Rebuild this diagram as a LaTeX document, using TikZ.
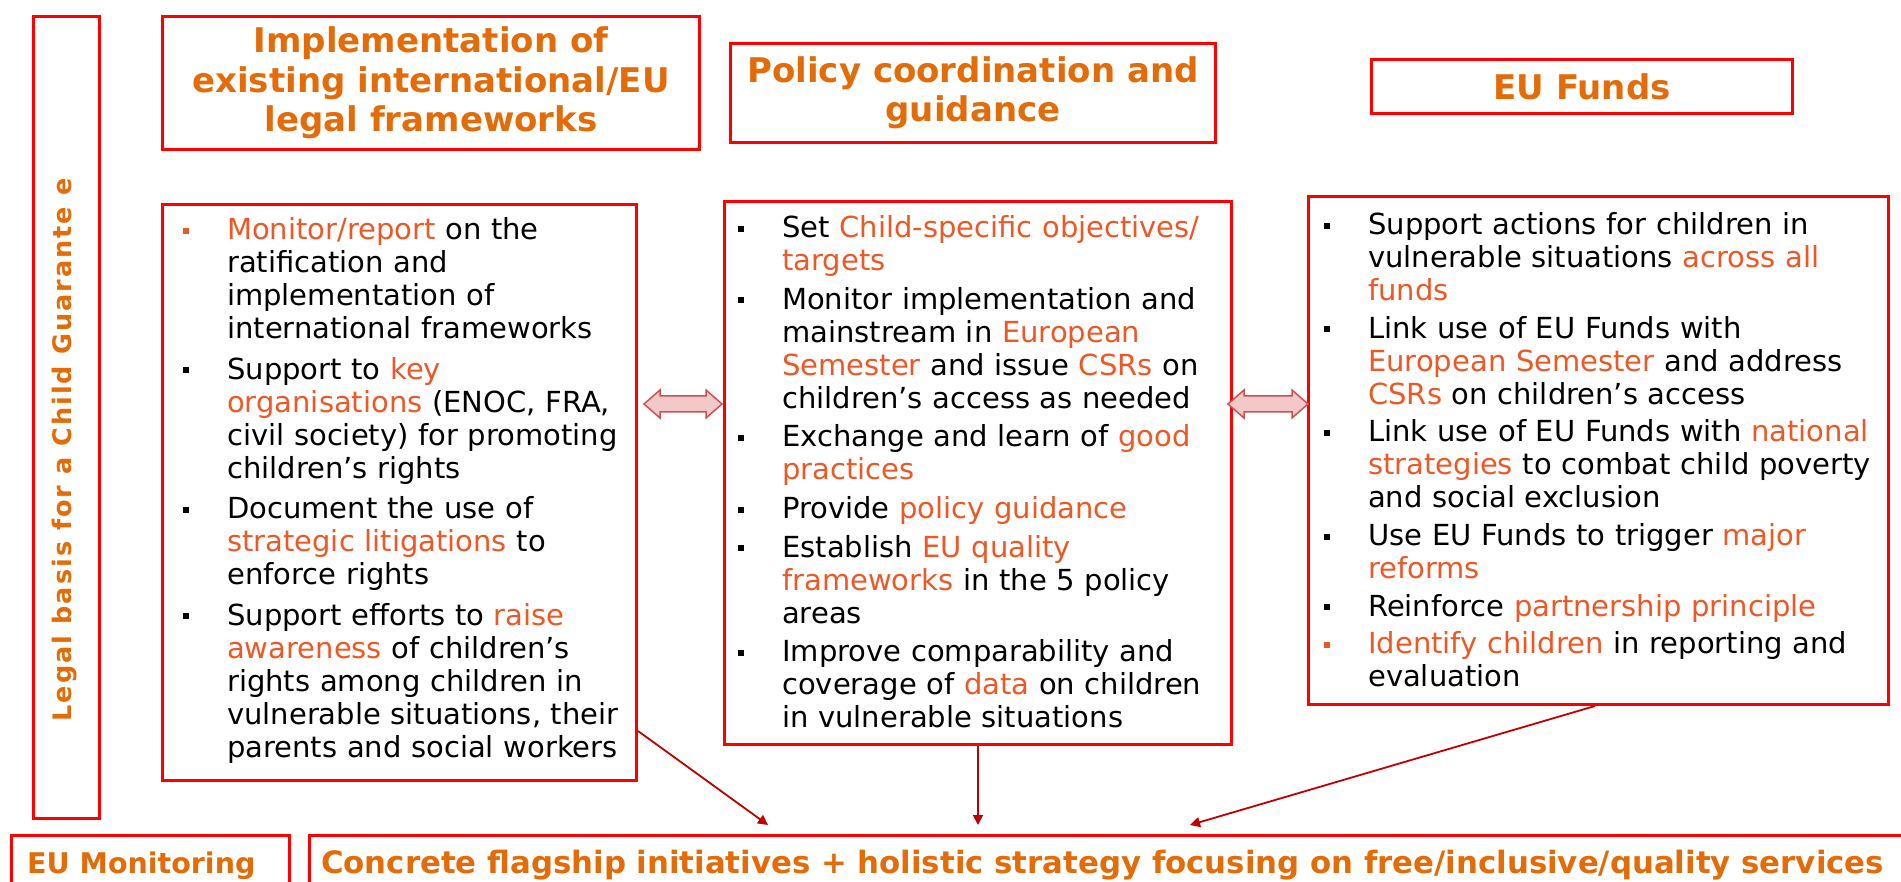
\documentclass[tikz,border=0pt]{standalone}
\usepackage{fontspec}
\setmainfont{DejaVu Sans}
\newfontfamily\legalfont[LetterSpace=8]{DejaVu Sans}
\usetikzlibrary{arrows.meta,calc}
\definecolor{boxred}{RGB}{255,0,0}
\definecolor{headorange}{RGB}{227,108,9}
\definecolor{hlorange}{RGB}{236,88,38}
\definecolor{connred}{RGB}{192,0,0}
\definecolor{dafill}{RGB}{242,200,200}
\definecolor{daline}{RGB}{208,80,80}
\newcommand{\hl}[1]{\textcolor{hlorange}{#1}}
\newcommand{\bitem}[2]{\par\noindent\hangindent=44pt\hangafter=1\makebox[44pt][l]{\textcolor{#1}{\rule[6pt]{6pt}{6pt}}}\strut#2\par}
\begin{document}
\begin{tikzpicture}[x=1pt,y=-1pt,
  redbox/.style={draw=boxred, line width=3pt, inner sep=0pt, anchor=north west},
  headtext/.style={text=headorange, font=\fontsize{34}{39.5}\selectfont\bfseries, align=center},
  bodytext/.style={anchor=north west, inner sep=0pt, text width=#1, align=left, font=\fontsize{29}{33}\selectfont},
  foottext/.style={anchor=base west, inner sep=0pt, text=headorange},
  conn/.style={draw=connred, line width=1.8pt, -{Triangle[length=10pt,width=10pt]}},
  darrow/.style={draw=daline, fill=dafill, line width=1.5pt, line join=miter}
]
\useasboundingbox (0,0) rectangle (1901,882);
\fill[white] (0,0) rectangle (1901,882);
\clip (0,0) rectangle (1901,882);

% legal basis
\node[redbox, minimum width=66pt, minimum height=802pt] (legal) at (32,15) {};
\node[text=headorange, rotate=90, inner sep=0pt, font=\legalfont\bfseries\fontsize{25.5}{30}\selectfont] (legaltext) at (65,450) {Legal basis for a Child Guarante e};

% headers
\node[redbox, headtext, minimum width=537pt, minimum height=133pt] (h1) at (161,15) {Implementation of\\existing international/EU\\legal frameworks};
\node[redbox, headtext, minimum width=485pt, minimum height=99pt] (h2) at (729,42) {Policy coordination and\\guidance};
\node[redbox, headtext, minimum width=421pt, minimum height=54pt] (h3) at (1370,58) {EU Funds};

% body boxes
\node[redbox, minimum width=474pt, minimum height=576pt] (b1) at (161,203) {};
\node[redbox, minimum width=507pt, minimum height=543pt] (b2) at (723,200) {};
\node[redbox, minimum width=580pt, minimum height=508pt] (b3) at (1307,195) {};

\node[bodytext=520pt] (t1) at (183,199) {\setlength{\parskip}{7.5pt}%
\bitem{hlorange}{\hl{Monitor/report} on the\newline ratification and\newline implementation of\newline international frameworks}
\bitem{black}{Support to \hl{key}\newline \hl{organisations} (ENOC, FRA,\newline civil society) for promoting\newline children’s rights}
\bitem{black}{Document the use of\newline \hl{strategic litigations} to\newline enforce rights}
\bitem{black}{Support efforts to \hl{raise}\newline \hl{awareness} of children’s\newline rights among children in\newline vulnerable situations, their\newline parents and social workers}};

\node[bodytext=540pt] (t2) at (738,199) {\setlength{\parskip}{5.6pt}%
\bitem{black}{Set \hl{Child-specific objectives/}\newline \hl{targets}}
\bitem{black}{Monitor implementation and\newline mainstream in \hl{European}\newline \hl{Semester} and issue \hl{CSRs} on\newline children’s access as needed}
\bitem{black}{Exchange and learn of \hl{good}\newline \hl{practices}}
\bitem{black}{Provide \hl{policy guidance}}
\bitem{black}{Establish \hl{EU quality}\newline \hl{frameworks} in the 5 policy\newline areas}
\bitem{black}{Improve comparability and\newline coverage of \hl{data} on children\newline in vulnerable situations}};

\node[bodytext=620pt] (t3) at (1324,197) {\setlength{\parskip}{4.6pt}%
\bitem{black}{Support actions for children in\newline vulnerable situations \hl{across all}\newline \hl{funds}}
\bitem{black}{Link use of EU Funds with\newline \hl{European Semester} and address\newline \hl{CSRs} on children’s access}
\bitem{black}{Link use of EU Funds with \hl{national}\newline \hl{strategies} to combat child poverty\newline and social exclusion}
\bitem{black}{Use EU Funds to trigger \hl{major}\newline \hl{reforms}}
\bitem{black}{Reinforce \hl{partnership principle}}
\bitem{hlorange}{\hl{Identify children} in reporting and\newline evaluation}};

% bottom boxes
\node[redbox, minimum width=278pt, minimum height=76pt] (mon) at (10,834) {};
\node[redbox, minimum width=1607pt, minimum height=76pt] (flag) at (308,834) {};
\node[foottext, font=\fontsize{28.5}{34}\selectfont\bfseries] (montext) at (27,873) {EU Monitoring};
\node[foottext, font=\fontsize{30.8}{36}\selectfont\bfseries] (flagtext) at (321,873) {Concrete flagship initiatives + holistic strategy focusing on free/inclusive/quality services};

% double arrows
\draw[darrow, shift={(683,404)}] (-39,0) -- (-23,-14) -- (-23,-8) -- (23,-8) -- (23,-14) -- (39,0) -- (23,14) -- (23,8) -- (-23,8) -- (-23,14) -- cycle;
\draw[darrow, shift={(1268,404)}] (-40,0) -- (-24,-14) -- (-24,-8) -- (24,-8) -- (24,-14) -- (40,0) -- (24,14) -- (24,8) -- (-24,8) -- (-24,14) -- cycle;

% connectors
\coordinate (s1) at ($(b1.south east)+(0,-51)$);
\coordinate (e1) at ($(flag.north west)+(460,-9)$);
\coordinate (s3) at ($(b3.south west)+(288,0)$);
\coordinate (e3) at ($(flag.north west)+(882,-9)$);
\draw[conn] (s1) -- (e1);
\draw[conn] (b2.south) -- (b2.south |- e1);
\draw[conn] (s3) -- (e3);
\end{tikzpicture}
\end{document}
